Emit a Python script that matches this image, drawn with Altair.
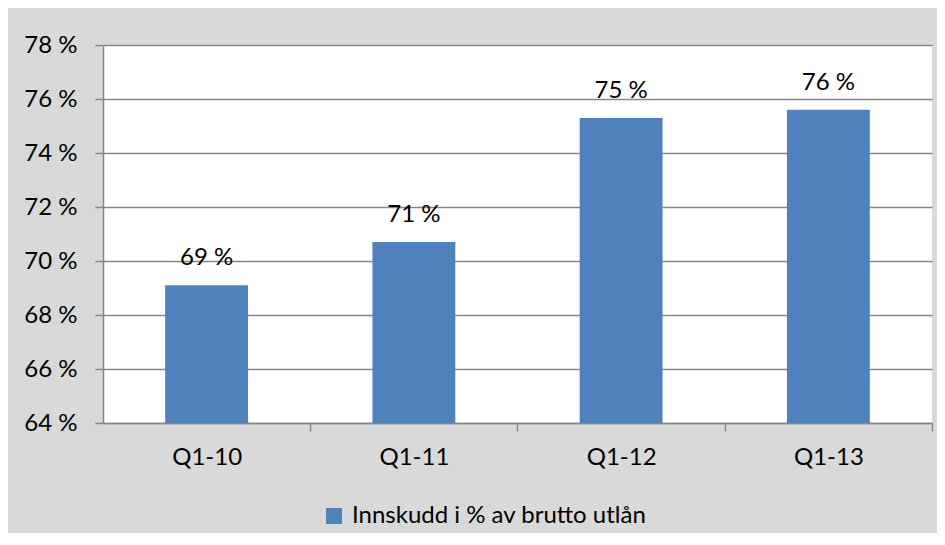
import altair as alt
import pandas as pd

categories = ["Q1-10", "Q1-11", "Q1-12", "Q1-13"]
values = [69.1, 70.7, 75.3, 75.6]
series_name = "Innskudd i % av brutto utlån"

df = pd.DataFrame({"kvartal": categories, "verdi": values, "serie": [series_name] * 4})

FONT = "Lato"
FS = 24
GRAY = "#868686"

x = alt.X("kvartal:N", sort=categories, title=None,
          scale=alt.Scale(paddingInner=0.6, paddingOuter=0.3),
          axis=alt.Axis(labelAngle=0, labelFontSize=FS, labelFont=FONT, labelColor="#000",
                        tickSize=8, tickColor=GRAY, tickWidth=1.5,
                        tickOffset=103.6, labelOffset=-103.6,
                        domainColor=GRAY, domainWidth=1.5, labelPadding=14, grid=False))

y = alt.Y("verdi:Q", title=None,
          scale=alt.Scale(domain=[64, 78], zero=False, nice=False),
          axis=alt.Axis(values=[64, 66, 68, 70, 72, 74, 76, 78], labelExpr="datum.value + ' %'",
                        labelFontSize=FS, labelFont=FONT, labelColor="#000",
                        tickSize=8, tickColor=GRAY, tickWidth=1.5,
                        domainColor=GRAY, domainWidth=1.5, labelPadding=18,
                        grid=True, gridColor=GRAY, gridWidth=1.5))

bars = alt.Chart(df).mark_bar(color="#4f81bd", clip=True).encode(
    x=x, y=y,
    color=alt.Color("serie:N", scale=alt.Scale(range=["#4f81bd"]),
                    legend=alt.Legend(title=None, orient="none", legendX=219, legendY=459,
                                      symbolType="square", symbolSize=256, symbolStrokeWidth=0,
                                      labelFontSize=FS, labelFont=FONT, labelColor="#000",
                                      labelOffset=6, labelLimit=0)),
)

labels = alt.Chart(df).transform_calculate(
    label="format(datum.verdi, '.0f') + ' %'"
).mark_text(baseline="middle", dy=-27, fontSize=FS, font=FONT, color="#000").encode(
    x=alt.X("kvartal:N", sort=categories), y="verdi:Q", text="label:N"
)

chart = alt.layer(bars, labels).properties(
    width=829, height=378,
    background="#d9d9d9",
    padding={"left": 95, "top": 37, "right": 5, "bottom": 110},
    autosize=alt.AutoSizeParams(type="none"),
).configure_view(fill="white", stroke=None)

chart.save("out.html", embed_options={"renderer": "svg", "actions": False})
